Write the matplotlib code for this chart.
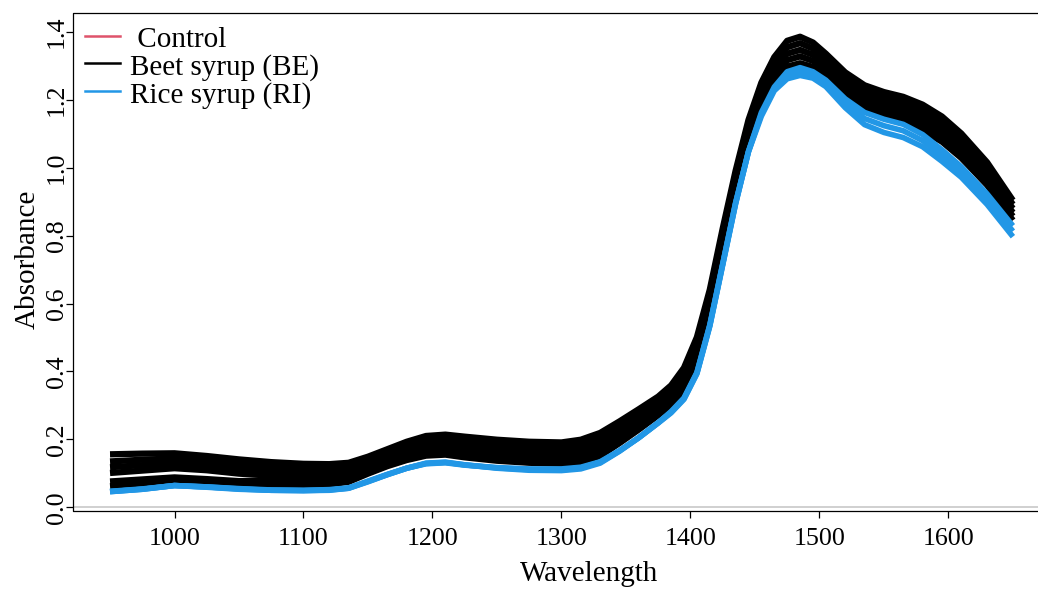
import matplotlib
matplotlib.use("Agg")
import matplotlib.pyplot as plt
from matplotlib.lines import Line2D

plt.rcParams['font.family'] = ['Liberation Serif', 'DejaVu Serif']

# spectra (absorbance at each wavelength)
wavelength = [950, 975, 1000, 1025, 1050, 1075, 1100, 1120, 1135, 1150, 1165, 1180, 1195,
              1210, 1225, 1250, 1275, 1300, 1315, 1330, 1345, 1360, 1375, 1385, 1395, 1405,
              1415, 1425, 1435, 1445, 1455, 1465, 1475, 1485, 1495, 1505, 1520, 1535, 1550,
              1565, 1580, 1595, 1610, 1630, 1650]

beet_1 = [.156, .158, .159, .151, .141, .133, .128, .127, .131, .149, .171, .193, .210,
          .214, .208, .199, .193, .191, .199, .219, .253, .289, .326, .359, .411, .501,
          .641, .821, .991, 1.141, 1.251, 1.326, 1.374, 1.386, 1.369, 1.336, 1.281, 1.243, 1.223,
          1.209, 1.186, 1.151, 1.101, 1.016, .904]
beet_2 = [.135, .140, .144, .137, .127, .120, .115, .115, .120, .139, .161, .182, .198,
          .202, .196, .187, .181, .178, .186, .205, .240, .277, .315, .347, .398, .485,
          .625, .805, .977, 1.127, 1.236, 1.310, 1.355, 1.367, 1.351, 1.320, 1.266, 1.228, 1.208,
          1.194, 1.171, 1.136, 1.087, 1.003, .892]
beet_3 = [.118, .124, .130, .123, .113, .106, .103, .103, .109, .129, .151, .171, .187,
          .190, .184, .174, .168, .166, .173, .192, .227, .265, .304, .336, .384, .468,
          .608, .788, .962, 1.112, 1.220, 1.293, 1.336, 1.347, 1.333, 1.303, 1.250, 1.213, 1.193,
          1.179, 1.155, 1.121, 1.072, .989, .880]
beet_4 = [.101, .108, .115, .109, .099, .093, .090, .091, .097, .119, .141, .161, .175,
          .179, .171, .162, .156, .153, .159, .178, .215, .253, .293, .324, .371, .452,
          .592, .772, .948, 1.098, 1.205, 1.277, 1.317, 1.328, 1.315, 1.287, 1.235, 1.199, 1.179,
          1.164, 1.140, 1.107, 1.058, .976, .868]
beet_5 = [.076, .082, .088, .083, .077, .079, .078, .079, .086, .109, .131, .150, .164,
          .167, .159, .149, .143, .141, .146, .165, .202, .241, .282, .313, .357, .435,
          .575, .755, .933, 1.083, 1.189, 1.260, 1.298, 1.308, 1.297, 1.270, 1.219, 1.184, 1.164,
          1.149, 1.124, 1.092, 1.043, .962, .857]
beet_6 = [.062, .069, .080, .075, .069, .066, .065, .067, .075, .099, .121, .139, .152,
          .155, .147, .137, .131, .128, .133, .151, .189, .229, .271, .301, .344, .419,
          .559, .739, .919, 1.069, 1.174, 1.244, 1.279, 1.289, 1.279, 1.254, 1.204, 1.169, 1.149,
          1.134, 1.109, 1.077, 1.029, .949, .845]

rice_1 = [.046, .053, .064, .059, .053, .050, .049, .050, .056, .075, .096, .115, .130,
          .133, .125, .115, .109, .108, .113, .130, .165, .205, .248, .278, .318, .393,
          .533, .713, .893, 1.048, 1.163, 1.238, 1.283, 1.295, 1.283, 1.258, 1.203, 1.163, 1.143,
          1.128, 1.098, 1.053, 1.003, .923, .829]
rice_2 = [.046, .053, .064, .060, .054, .050, .049, .051, .056, .076, .096, .115, .129,
          .132, .125, .116, .111, .110, .116, .132, .166, .205, .249, .280, .320, .395,
          .535, .715, .895, 1.048, 1.158, 1.233, 1.272, 1.284, 1.274, 1.249, 1.190, 1.145, 1.124,
          1.109, 1.080, 1.036, .987, .908, .813]
rice_3 = [.047, .054, .064, .060, .055, .051, .050, .052, .057, .077, .097, .115, .128,
          .131, .124, .117, .113, .113, .118, .134, .167, .205, .249, .282, .322, .397,
          .537, .717, .897, 1.047, 1.152, 1.227, 1.262, 1.272, 1.264, 1.239, 1.177, 1.127, 1.104,
          1.089, 1.062, 1.019, .972, .892, .797]

beet = [beet_1, beet_2, beet_3, beet_4, beet_5, beet_6]
rice = [rice_1, rice_2, rice_3]

x_ticks = [1000, 1100, 1200, 1300, 1400, 1500, 1600]
y_ticks = [0.0, 0.2, 0.4, 0.6, 0.8, 1.0, 1.2, 1.4]
legend_labels = [' Control', 'Beet syrup (BE)', 'Rice syrup (RI)']
col_control = '#DF536B'
col_beet = 'black'
col_rice = '#2297E6'

W, H = 1038, 591
fig = plt.figure(figsize=(W / 100, H / 100), dpi=100)
ax = fig.add_axes([73 / W, 1 - 511 / H, (1049 - 73) / W, (511 - 13.3) / H])
ax.set_frame_on(False)

# the plot box runs off the right side of the picture; stop lines at the edge
x_edge = (W - 73) / 976

ax.axhline(0, xmax=x_edge, color='#c8c8c8', lw=1.2, zorder=0.5)

for s in beet:
    ax.plot(wavelength, s, color=col_beet, lw=4.5, solid_capstyle='butt', solid_joinstyle='round')
for s in rice:
    ax.plot(wavelength, s, color=col_rice, lw=4, solid_capstyle='butt', solid_joinstyle='round')

ax.set_xlim(921.3, 1678)
ax.set_ylim(-0.011, 1.455)

ax.plot([x_edge, 0, 0, x_edge], [1, 1, 0, 0], transform=ax.transAxes, color='black', lw=0.9,
        clip_on=False, zorder=3)

ax.set_xticks(x_ticks)
ax.set_xticklabels([str(v) for v in x_ticks])
ax.set_yticks(y_ticks)
ax.set_yticklabels(['%.1f' % v for v in y_ticks])
ax.tick_params(axis='both', direction='out', length=5, width=0.9, labelsize=18.7)
ax.tick_params(axis='x', pad=7.5)
ax.tick_params(axis='y', pad=-1.5, labelrotation=90)
for lbl in ax.get_yticklabels():
    lbl.set_va('center')

ax.set_xlabel('Wavelength', fontsize=21)
ax.xaxis.set_label_coords((589 - 73) / 976, (511 - 561) / 497.7)
ax.set_ylabel('Absorbance', fontsize=21)
ax.yaxis.set_label_coords((41 - 73) / 976, 0.506)

# legend drawn by hand (R style, no box)
rows = [(36, 46.7), (63.3, 75), (90.7, 102.7)]
cols = [col_control, col_beet, col_rice]
for (ly, ty), c, lab in zip(rows, cols, legend_labels):
    fig.add_artist(Line2D([85 / W, 120 / W], [1 - ly / H, 1 - ly / H], color=c, lw=1.8,
                          transform=fig.transFigure))
    fig.text(129.5 / W, 1 - ty / H, lab, fontsize=21, va='baseline', ha='left')

fig.savefig('out.png', dpi=100)
